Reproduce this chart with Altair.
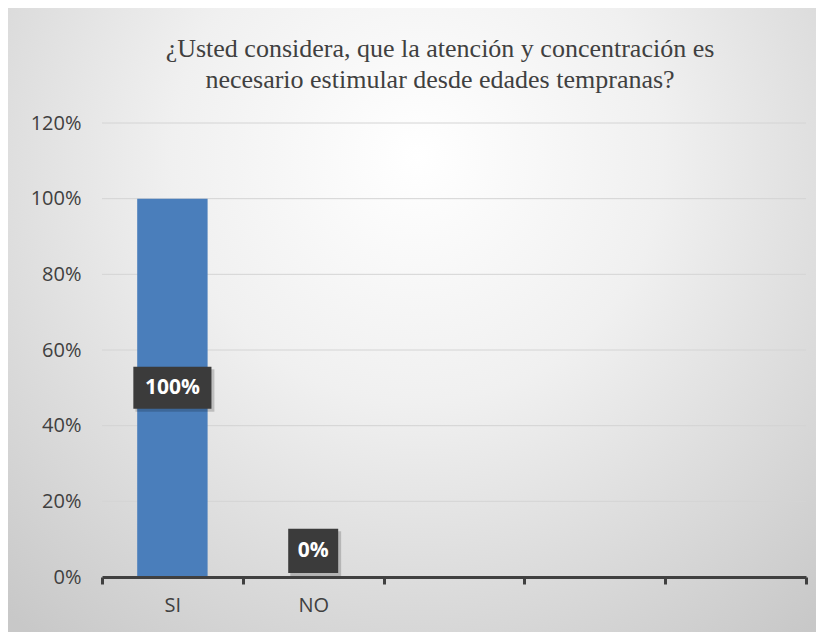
import altair as alt
import pandas as pd

# --- data ---
slots = ["SI", "NO", " ", "  ", "   "]          # category slots on the x axis
categories = ["SI", "NO"]
values = [100, 0]                               # percent
labels = ["100%", "0%"]
y_ticks = [0, 20, 40, 60, 80, 100, 120]
title_lines = ["¿Usted considera, que la atención y concentración es",
               "necesario estimular desde edades tempranas?"]

df = pd.DataFrame({"cat": categories, "value": values, "label": labels})

W, H = 704, 454
TXT = "#404040"

x_axis = alt.Axis(title=None, labelAngle=0, labelFont="Open Sans",
                  labelFontSize=20, labelColor=TXT, labelPadding=11,
                  domainColor=TXT, domainWidth=3, tickColor=TXT,
                  tickWidth=3, tickSize=7, tickBand="extent",
                  grid=False, zindex=2)
y_axis = alt.Axis(title=None, values=y_ticks, format=".0f",
                  labelExpr="datum.value + '%'", labelFont="Open Sans",
                  labelFontSize=20, labelColor=TXT, labelPadding=21,
                  domain=False, ticks=False, grid=False, zindex=2)
x_scale = alt.Scale(domain=slots, paddingInner=0, paddingOuter=0)
y_scale = alt.Scale(domain=[0, 120], nice=False)

bg = alt.Chart(df).mark_rect(
    fill={"gradient": "radial", "x1": 0.5, "y1": 0.3, "r1": 0.0,
          "x2": 0.5, "y2": 0.3, "r2": 0.75,
          "stops": [{"offset": 0, "color": "#ffffff"},
                    {"offset": 0.4, "color": "#f0f0f0"},
                    {"offset": 1, "color": "#c8c8c8"}]}
).encode(x=alt.value(-94), x2=alt.value(W + 20),
         y=alt.value(-120), y2=alt.value(H + 60))

grid = alt.Chart(pd.DataFrame({"t": y_ticks})).mark_rule(
    color="#d4d4d4", strokeWidth=1).encode(
    y=alt.Y("t:Q", scale=y_scale, axis=y_axis),
    x=alt.value(0), x2=alt.value(W))

xs = alt.X("cat:N", sort=slots, scale=x_scale, axis=x_axis)

bars = alt.Chart(df).mark_bar(color="#4a7ebb", width=alt.RelativeBandSize(0.5)).encode(
    x=xs,
    y=alt.Y("value:Q", scale=y_scale, axis=y_axis))

lab_base = alt.Chart(df).transform_calculate(
    ly="datum.value > 0 ? datum.value / 2 : datum.value + 6.9")

box_paths = {
    "100%": "M-1.86,-1L1.86,-1L1.86,1L-1.86,1Z",
    "0%": "M-1.19,-1.05L1.19,-1.05L1.19,1.05L-1.19,1.05Z",
}
shadow_paths = {
    "100%": "M-1.76,-0.88L2.0,-0.88L2.0,1.14L-1.76,1.14Z",
    "0%": "M-1.09,-0.93L1.33,-0.93L1.33,1.19L-1.09,1.19Z",
}

ys = alt.Y("ly:Q", scale=y_scale, axis=y_axis)

shadow = lab_base.mark_point(filled=True, color="#000000", opacity=0.18,
                             size=42 * 42, strokeWidth=0).encode(
    x=xs, y=ys,
    shape=alt.Shape("label:N", scale=alt.Scale(domain=list(shadow_paths.keys()),
                                               range=list(shadow_paths.values())),
                    legend=None))

box = lab_base.mark_point(filled=True, color="#3b3b3b", opacity=1,
                          size=42 * 42, strokeWidth=0).encode(
    x=xs, y=ys,
    shape=alt.Shape("label:N", scale=alt.Scale(domain=list(box_paths.keys()),
                                               range=list(box_paths.values())),
                    legend=None))

text = lab_base.mark_text(font="Open Sans", fontSize=21, fontWeight="bold",
                          color="white", baseline="middle", align="center").encode(
    x=xs, y=ys, text="label:N")

title1 = alt.Chart(pd.DataFrame({"line": [title_lines[0]]})).mark_text(
    font="Liberation Serif", fontSize=26, color=TXT, align="center",
    baseline="alphabetic").encode(x=alt.value(338), y=alt.value(-66), text="line:N")
title2 = alt.Chart(pd.DataFrame({"line": [title_lines[1]]})).mark_text(
    font="Liberation Serif", fontSize=26, color=TXT, align="center",
    baseline="alphabetic").encode(x=alt.value(338), y=alt.value(-35), text="line:N")

chart = alt.layer(bg, grid, bars, shadow, box, text, title1, title2).resolve_scale(
    shape="independent").properties(
    width=W, height=H,
    autosize=alt.AutoSizeParams(type="none"),
    padding={"left": 94, "top": 115, "right": 10, "bottom": 55},
).configure_view(stroke=None).configure(background="#cbcbcb")

chart.save("out.html", embed_options={"renderer": "svg", "actions": False})
